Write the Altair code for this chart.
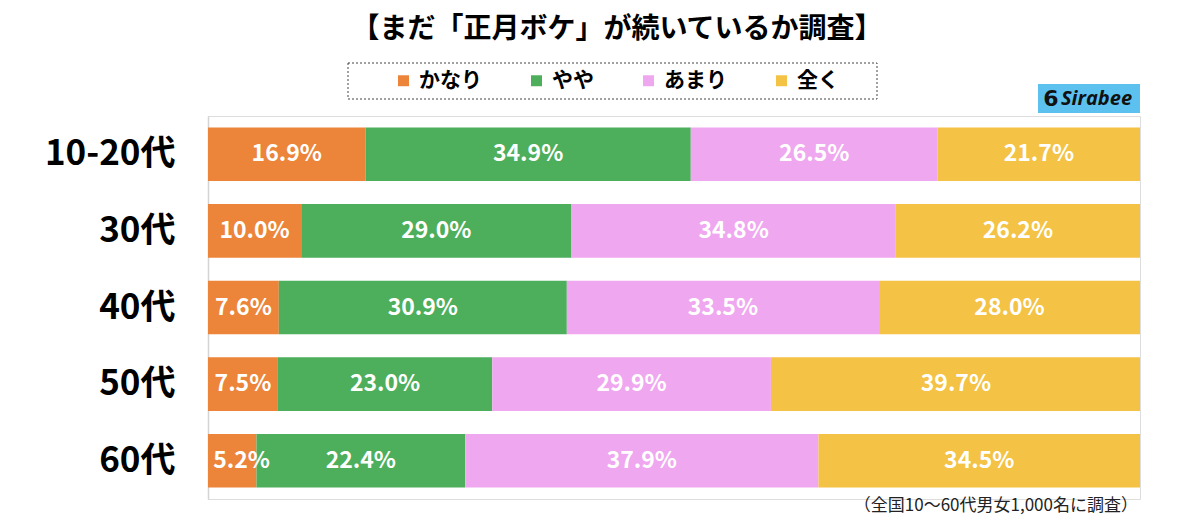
import altair as alt
import pandas as pd

ages = ["10-20代", "30代", "40代", "50代", "60代"]
cats = ["かなり", "やや", "あまり", "全く"]
colors = ["#EC843A", "#4DAE5C", "#EFA7EF", "#F4C244"]
kanari = [16.9, 10.0, 7.6, 7.5, 5.2]
yaya = [34.9, 29.0, 30.9, 23.0, 22.4]
amari = [26.5, 34.8, 33.5, 29.9, 37.9]
mattaku = [21.7, 26.2, 28.0, 39.7, 34.5]

series = [kanari, yaya, amari, mattaku]
rows = []
for ci, (c, vals) in enumerate(zip(cats, series)):
    for a, v in zip(ages, vals):
        rows.append({"age": a, "cat": c, "order": ci, "value": v,
                     "label": f"{v:.1f}%"})
df = pd.DataFrame(rows)

JP = "Noto Sans CJK JP"
OX, OY = 208, 116  # plot origin in page pixels

base = alt.Chart(df).transform_stack(
    stack="value", groupby=["age"], sort=[alt.SortField("order")], as_=["x0", "x1"]
).transform_calculate(mid="max((datum.x0 + datum.x1) / 2, 3.6)")

yenc = alt.Y("age:N", sort=ages,
             scale=alt.Scale(paddingInner=0.3, paddingOuter=0.15),
             axis=alt.Axis(title=None, ticks=False, grid=False, labelFont=JP,
                           labelFontSize=35, labelFontWeight="bold", labelColor="#000",
                           labelPadding=33, domainColor="#d4d4d4", domainWidth=1.5))
xscale = alt.Scale(domain=[0, 100], nice=False, zero=True)

bars = base.mark_bar(clip=True).encode(
    y=yenc,
    x=alt.X("x0:Q", scale=xscale, axis=None),
    x2="x1:Q",
    color=alt.Color("cat:N", scale=alt.Scale(domain=cats, range=colors),
                    legend=alt.Legend(title=None, orient="none", direction="horizontal",
                                      legendX=393 - OX, legendY=70 - OY,
                                      symbolType="square", symbolSize=120,
                                      symbolStrokeWidth=0, labelFont=JP,
                                      labelFontSize=21, labelFontWeight="bold",
                                      labelColor="#000", labelOffset=5,
                                      columnPadding=44, padding=0)),
)

texts = base.mark_text(color="white", font=JP, fontSize=23, fontWeight="bold").encode(
    y=alt.Y("age:N", sort=ages),
    x=alt.X("mid:Q", scale=xscale),
    text="label:N",
)

one = pd.DataFrame({"k": [0]})
box = alt.Chart(one).mark_rect(fill=None, stroke="#444", strokeDash=[2, 2], strokeWidth=1).encode(
    x=alt.value(348 - OX), x2=alt.value(877 - OX),
    y=alt.value(63 - OY), y2=alt.value(99 - OY))

title = alt.Chart(one).mark_text(text="【まだ「正月ボケ」が続いているか調査】", font=JP,
                                 fontSize=28, fontWeight="bold", color="#000",
                                 baseline="middle", align="center").encode(
    x=alt.value(617 - OX), y=alt.value(30 - OY))

logo_bg = alt.Chart(one).mark_rect(fill="#5CC1EF").encode(
    x=alt.value(1038 - OX), x2=alt.value(1140 - OX),
    y=alt.value(84 - OY), y2=alt.value(113 - OY))
logo_icon = alt.Chart(one).mark_text(text="6", font="DejaVu Sans", fontSize=22,
                                     fontWeight="bold", color="#111",
                                     baseline="middle", align="center").encode(
    x=alt.value(1051 - OX), y=alt.value(99 - OY))
logo_txt = alt.Chart(one).mark_text(text="Sirabee", font="Open Sans", fontSize=20,
                                    fontWeight="bold", fontStyle="italic", color="#111",
                                    baseline="middle", align="left").encode(
    x=alt.value(1061 - OX), y=alt.value(99 - OY))

foot = alt.Chart(one).mark_text(text="（全国10～60代男女1,000名に調査）", font=JP,
                                fontSize=17, color="#222", baseline="middle",
                                align="right").encode(
    x=alt.value(1138 - OX), y=alt.value(506 - OY))

chart = alt.layer(bars, texts, box, title, logo_bg, logo_icon, logo_txt, foot).properties(
    width=932, height=383,
    autosize=alt.AutoSizeParams(type="none"),
    padding={"left": OX - 8, "top": OY - 8, "right": 44, "bottom": 24},
).configure_view(stroke=None).configure(background="white")

chart.save("out.html", embed_options={"renderer": "svg", "actions": False})
